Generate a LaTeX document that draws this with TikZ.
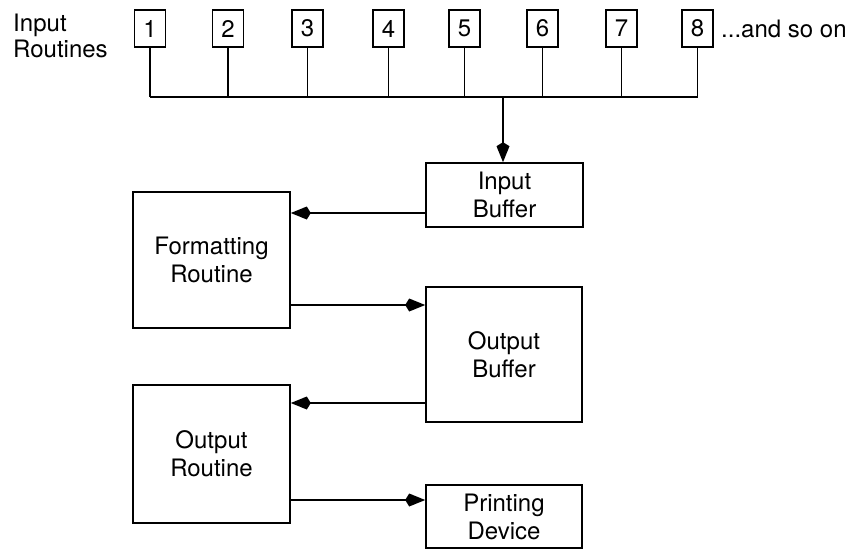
\documentclass[tikz,border=0pt]{standalone}
\usepackage{fontspec}
\setmainfont{TeX Gyre Heros}
\usetikzlibrary{arrows.meta}
\tikzset{
  boxnode/.style={draw=black, line width=1.6pt, inner sep=0pt, align=center,
    font=\fontsize{24}{28}\selectfont},
  numbox/.style={boxnode, minimum width=31pt, minimum height=37pt},
  wire/.style={line width=1.6pt},
  arr/.style={line width=1.6pt, -{Kite[length=20pt,width=13pt,inset=4pt]}},
  lbl/.style={inner sep=0pt, font=\fontsize{24}{26}\selectfont}
}
\begin{document}
\begin{tikzpicture}[x=1pt,y=-1pt]
\useasboundingbox (0,0) rectangle (865,550);
\fill[white] (0,0) rectangle (865,550);

\node[lbl, align=left, anchor=north west] (irl) at (13,14) {Input\\Routines};

\node[numbox] (n1) at (150,28.5) {1};
\node[numbox] (n2) at (228,28.5) {2};
\node[numbox] (n3) at (307.5,28.5) {3};
\node[numbox] (n4) at (388.5,28.5) {4};
\node[numbox] (n5) at (464.5,28.5) {5};
\node[numbox] (n6) at (542.5,28.5) {6};
\node[numbox] (n7) at (621.5,28.5) {7};
\node[numbox] (n8) at (697.5,28.5) {8};
\node[lbl, anchor=base west] (soon) at (721,37) {...and so on};

\coordinate (busl) at (150,97);
\coordinate (busr) at (697.5,97);

\node[boxnode, minimum width=157pt, minimum height=64pt] (ib) at (504.5,195) {Input\\Buffer};
\node[boxnode, minimum width=157pt, minimum height=136pt] (fr) at (211.5,260) {Formatting\\Routine};
\node[boxnode, minimum width=156pt, minimum height=135pt] (ob) at (504,354.5) {Output\\Buffer};
\node[boxnode, minimum width=157pt, minimum height=138pt] (or) at (211.5,454) {Output\\Routine};
\node[boxnode, minimum width=156pt, minimum height=63pt] (pd) at (504,516.5) {Printing\\Device};

\draw[wire] (busl) -- (busr);
\foreach \i in {1,...,8} {
  \draw[wire] (n\i.south) -- (n\i.south |- busl);
}
\draw[arr] ([xshift=-1.5pt]ib.north |- busl) -- ([xshift=-1.5pt]ib.north);

\draw[arr] ([yshift=-18pt]ib.west) -- ([yshift=-18pt]ib.west -| fr.east);
\draw[arr] ([yshift=-45pt]fr.east) -- ([yshift=-45pt]fr.east -| ob.west);
\draw[arr] ([yshift=-48.5pt]ob.west) -- ([yshift=-48.5pt]ob.west -| or.east);
\draw[arr] ([yshift=-46pt]or.east) -- ([yshift=-46pt]or.east -| pd.west);
\end{tikzpicture}
\end{document}
